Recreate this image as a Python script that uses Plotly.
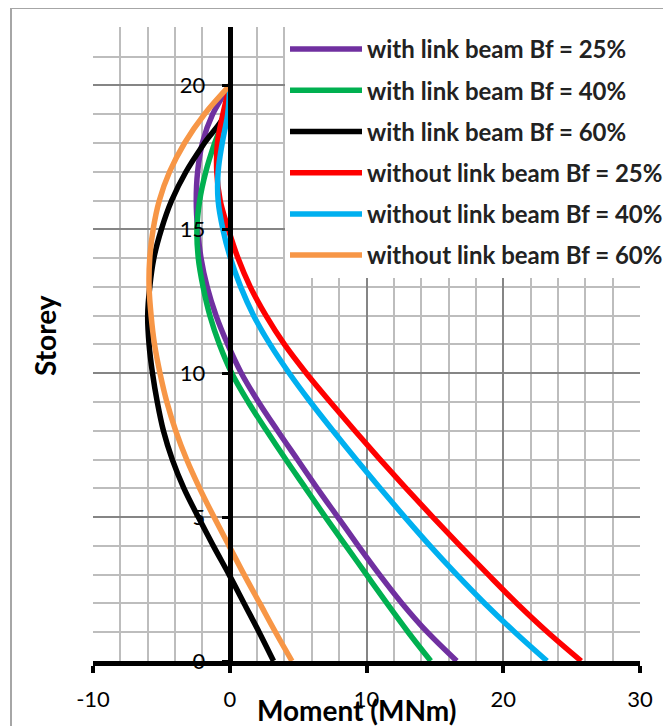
import plotly.graph_objects as go

storey = list(range(0, 21))

with_link_25 = [16.6, 14.45, 12.6, 10.95, 9.4, 7.9, 6.4, 4.95, 3.5, 2.1, 0.85, -0.15,
                -1.0, -1.65, -2.1, -2.35, -2.45, -2.35, -2.0, -1.25, 0.0]
with_link_40 = [14.7, 13.05, 11.5, 10.0, 8.5, 7.0, 5.55, 4.1, 2.7, 1.35, 0.15, -0.75,
                -1.45, -1.95, -2.3, -2.4, -2.2, -1.75, -1.1, -0.3, 0.0]
with_link_60 = [3.2, 2.15, 1.05, -0.05, -1.2, -2.3, -3.35, -4.2, -4.85, -5.3, -5.65, -5.9,
                -6.0, -5.85, -5.55, -5.0, -4.25, -3.2, -1.85, -0.35, 0.0]
without_link_25 = [25.7, 23.25, 21.0, 18.9, 16.85, 14.85, 12.9, 11.0, 9.15, 7.35, 5.6, 4.0,
                   2.65, 1.5, 0.6, -0.1, -0.7, -0.95, -0.9, -0.5, 0.0]
without_link_40 = [23.2, 20.85, 18.65, 16.6, 14.65, 12.8, 11.0, 9.25, 7.55, 5.9, 4.35, 2.95,
                   1.75, 0.8, 0.05, -0.5, -0.85, -0.85, -0.55, -0.15, 0.0]
without_link_60 = [4.55, 3.35, 2.2, 1.05, -0.05, -1.15, -2.2, -3.15, -3.95, -4.6, -5.1, -5.5,
                   -5.75, -5.9, -5.85, -5.6, -5.15, -4.4, -3.3, -1.85, 0.0]

series_names = ["with link beam Bf = 25%", "with link beam Bf = 40%", "with link beam Bf = 60%",
                "without link beam Bf = 25%", "without link beam Bf = 40%", "without link beam Bf = 60%"]
series_values = [with_link_25, with_link_40, with_link_60,
                 without_link_25, without_link_40, without_link_60]
series_colors = ["#7030A0", "#00B050", "#000000", "#FF0000", "#00B0F0", "#F79646"]

x_ticks = [-10, 0, 10, 20, 30]
y_ticks = [0, 5, 10, 15, 20]

fig = go.Figure()
for i, (name, vals, col) in enumerate(zip(series_names, series_values, series_colors)):
    fig.add_trace(go.Scatter(
        x=vals, y=storey, mode="lines", name=name,
        line=dict(color=col, width=5.5, shape="spline", smoothing=1.0),
        legendgroup=f"g{i}",
    ))

major_grid = "#858585"
minor_grid = "#bdbdbd"

# page body adds an 8px offset, so margins are shifted by 8px
fig.update_layout(
    width=671, height=726,
    margin=dict(l=85, r=39, t=19, b=73, autoexpand=False),
    paper_bgcolor="white", plot_bgcolor="white",
    font=dict(family="Lato", color="black"),
    showlegend=True,
    legend=dict(
        x=(285 - 93) / 547, y=1.0, xanchor="left", yanchor="top",
        bgcolor="white", borderwidth=0,
        font=dict(family="Lato", size=24, color="#222222", weight="bold"),
        tracegroupgap=7, itemwidth=72,
    ),
    xaxis=dict(
        range=[-10, 30], tickvals=x_ticks, ticktext=[str(v) for v in x_ticks],
        showgrid=True, gridcolor=major_grid, gridwidth=2,
        minor=dict(dtick=2, showgrid=True, gridcolor=minor_grid, gridwidth=2),
        zeroline=False,
        showline=True, linecolor="black", linewidth=5,
        ticks="outside", ticklen=7, tickwidth=4, tickcolor="black",
        tickfont=dict(family="Lato", size=22, color="black"),
        ticklabelstandoff=8,
        fixedrange=True,
    ),
    yaxis=dict(
        range=[0, 22.03], tickvals=y_ticks, ticktext=[str(v) for v in y_ticks],
        anchor="free", position=0.25,
        showgrid=True, gridcolor=major_grid, gridwidth=2,
        minor=dict(dtick=1, showgrid=True, gridcolor=minor_grid, gridwidth=2),
        zeroline=False,
        showline=True, linecolor="black", linewidth=5,
        ticks="outside", ticklen=6, tickwidth=3, tickcolor="black",
        tickfont=dict(family="Lato", size=22, color="black"),
        ticklabelstandoff=12,
        fixedrange=True,
    ),
    annotations=[
        dict(text="<b>Storey</b>", xref="paper", yref="paper",
             x=-0.088, y=0.514, xanchor="center", yanchor="middle",
             textangle=-90, showarrow=False,
             font=dict(family="Lato", size=28, color="black")),
        dict(text="<b>Moment (MNm)</b>", xref="paper", yref="paper",
             x=0.483, y=-0.0773, xanchor="center", yanchor="middle", showarrow=False,
             font=dict(family="Lato", size=28, color="black")),
    ],
    shapes=[dict(
        type="rect", xref="paper", yref="paper",
        x0=-0.1499, x1=1.2, y0=-0.3, y1=1.03,
        line=dict(color="#a6a6a6", width=2), layer="below",
    )],
)

fig.write_html("out.html")
